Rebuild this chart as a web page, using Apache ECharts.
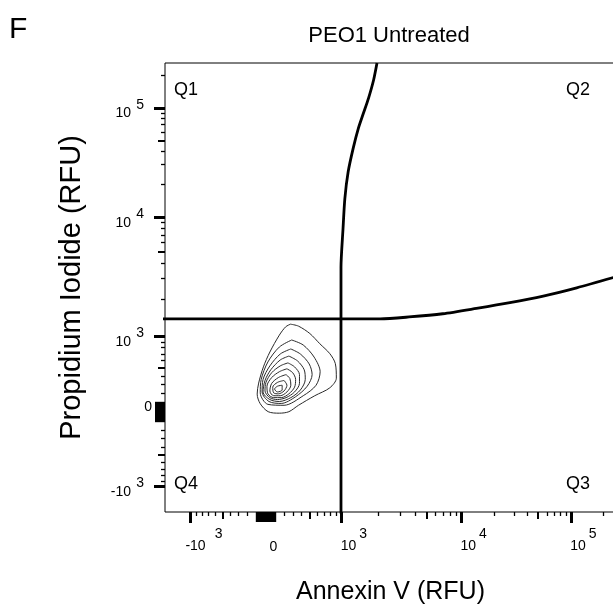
<!DOCTYPE html>
<html><head><meta charset="utf-8">
<script src="https://cdn.jsdelivr.net/npm/echarts@6/dist/echarts.min.js"></script>
<style>html,body{margin:0;padding:0;background:#fff}#c{width:613px;height:607px}</style>
</head><body><div id="c"></div>
<script>
// ---------------- data (RFU) ----------------
const majorTicks = [-1000, 1000, 10000, 100000];
const zeroClusterTicks = [-100, -90, -80, -70, -60, -50, -40, -30, -20, -10, 0,
  10, 20, 30, 40, 50, 60, 70, 80, 90, 100];
const midTicks = [-500, 500, 5000, 50000];
const minorTicks = [-900, -800, -700, -600, -400, -300, -200,
  200, 300, 400, 600, 700, 800, 900,
  2000, 3000, 4000, 6000, 7000, 8000, 9000,
  20000, 30000, 40000, 60000, 70000, 80000, 90000, 200000];
const tickLabelValues = [-1000, 1000, 10000, 100000];
const tickLabelBase = ['-10', '10', '10', '10'];
const tickLabelExp = ['3', '3', '4', '5'];
const zeroLabelValue = 0;

const quadrantNames = ['Q1', 'Q2', 'Q3', 'Q4'];

const verticalGate = [[995,-3000],[995,3671],[1035,7910],[1072,14710],[1142,25710],[1255,42210],[1383,64680],[1519,89170],[1669,122900],[1835,182150],[1954,262144]];
const horizontalGate = [[-3000,1400],[2076,1400],[3572,1450],[6920,1540],[13706,1700],[27490,1890],[55590,2140],[113300,2500],[262144,3080]];

const contour1 = [[268,1267],[361,1221],[503,1060],[640,867],[796,703],[890,559],[908,372],[796,260],[569,171],[361,67],[250,-2],[144,-18],[24,-2],[-61,84],[-94,189],[-78,314],[-27,515],[42,729],[144,1027],[214,1205]];
const contour2 = [[282,934],[419,844],[560,652],[645,452],[587,289],[419,171],[196,67],[21,77],[-61,203],[-51,357],[21,582],[144,810]];
const contour3 = [[272,778],[384,698],[494,555],[533,416],[469,278],[327,160],[165,87],[32,108],[-41,213],[-31,357],[42,528],[154,698]];
const contour4 = [[250,667],[350,596],[431,477],[444,357],[384,235],[272,150],[144,108],[42,129],[-31,213],[-10,345],[52,477],[154,610]];
const contour5 = [[239,569],[315,515],[373,416],[373,311],[315,213],[218,150],[124,129],[42,150],[-10,224],[0,322],[62,440],[154,528]];
const contour6 = [[228,490],[293,440],[327,357],[315,267],[250,192],[165,150],[83,150],[21,192],[11,278],[62,380],[144,452]];
const contour7 = [[218,416],[261,368],[272,289],[228,213],[154,171],[83,171],[42,224],[62,311],[134,380]];
const contour8 = [[196,345],[228,289],[196,224],[134,192],[83,203],[73,267],[124,322]];
const contour9 = [[175,289],[175,235],[124,213],[93,246],[124,278]];
const contours = [contour1, contour2, contour3, contour4, contour5, contour6, contour7, contour8, contour9];

// ---------------- logicle (biexponential) scale ----------------
function makeLogicle(T, W, M, A) {
  const w = W / (M + A), x2 = A / (M + A), x1 = x2 + w, x0 = x2 + 2 * w, b = (M + A) * Math.LN10;
  let lo = 1e-9, hi = b;
  for (let i = 0; i < 200; i++) {
    const m = (lo + hi) / 2;
    const g = 2 * (Math.log(m) - Math.log(b)) + w * (b + m);
    if (g > 0) hi = m; else lo = m;
  }
  const d = (lo + hi) / 2;
  const ca = Math.exp(x0 * (b + d));
  const mfa = Math.exp(b * x1) - ca * Math.exp(-d * x1);
  const a = T / (Math.exp(b) - mfa - ca * Math.exp(-d));
  const c = ca * a, f = -mfa * a;
  const S = x => {
    const neg = x < x1; const t = neg ? 2 * x1 - x : x;
    const v = a * Math.exp(b * t) + f - c * Math.exp(-d * t);
    return neg ? -v : v;
  };
  return v => {
    let l = -2, h = 2;
    for (let i = 0; i < 80; i++) { const m = (l + h) / 2; if (S(m) < v) l = m; else h = m; }
    return (l + h) / 2;
  };
}
const scale = makeLogicle(262144, 0.56, 3.82, 0.38);

const FONT = 'Liberation Sans, Arial, Helvetica, sans-serif';
const LBL = 14;

function nearestIdx(value) {
  let best = 0, bd = Infinity;
  tickLabelValues.forEach((v, i) => { const dd = Math.abs(scale(v) - value); if (dd < bd) { bd = dd; best = i; } });
  return best;
}
const baseRich = { b: { fontSize: LBL, fontFamily: FONT, color: '#000', width: 24, align: 'right' } };
const expRich = {
  e: { fontSize: LBL, fontFamily: FONT, color: '#000', padding: [0, 0, 0, 18] },
  en: { fontSize: LBL, fontFamily: FONT, color: '#000', padding: [0, 0, 0, 24] }
};

function makeAxes(dim) {
  const isX = dim === 'x';
  const base = { type: 'value', min: 0, max: 1, gridIndex: 0, position: isX ? 'bottom' : 'left',
    splitLine: { show: false }, axisLine: { show: false } };
  const txt = { fontSize: LBL, fontFamily: FONT, color: '#000' };
  return [
    // major ticks + mantissa labels
    Object.assign({}, base, {
      axisTick: { show: true, customValues: majorTicks.map(scale), length: 11, lineStyle: { color: '#000', width: 3 } },
      axisLabel: isX
        ? { show: true, customValues: tickLabelValues.map(scale), rich: baseRich, margin: 27, align: 'center', padding: [0, 0, 0, 6],
            formatter: v => '{b|' + tickLabelBase[nearestIdx(v)] + '}' }
        : Object.assign({ show: true, customValues: tickLabelValues.map(scale), margin: 34, align: 'right',
            verticalAlign: 'top', lineHeight: 11, formatter: v => tickLabelBase[nearestIdx(v)] }, txt),
      name: isX ? 'Annexin V (RFU)' : 'Propidium Iodide (RFU)',
      nameLocation: 'middle', nameGap: isX ? 68 : 79,
      nameTextStyle: { fontSize: isX ? 25 : 29, fontFamily: FONT, color: '#000' }
    }),
    // zero cluster ticks + zero label
    Object.assign({}, base, {
      axisTick: { show: true, customValues: zeroClusterTicks.map(scale), length: 10, lineStyle: { color: '#000', width: 1.4 } },
      axisLabel: isX
        ? Object.assign({ show: true, customValues: [scale(zeroLabelValue)], formatter: () => '0', margin: 28, align: 'center', padding: [0, 0, 0, 15] }, txt)
        : Object.assign({ show: true, customValues: [scale(zeroLabelValue)], formatter: () => '0', margin: 13, align: 'right',
            verticalAlign: 'bottom', lineHeight: 8 }, txt)
    }),
    // medium ticks
    Object.assign({}, base, {
      axisTick: { show: true, customValues: midTicks.map(scale), length: 7, lineStyle: { color: '#000', width: 2 } },
      axisLabel: { show: false }
    }),
    // minor ticks
    Object.assign({}, base, {
      axisTick: { show: true, customValues: minorTicks.map(scale), length: 4, lineStyle: { color: '#000', width: 1.3 } },
      axisLabel: { show: false }
    }),
    // exponents (superscripts)
    Object.assign({}, base, {
      axisTick: { show: false },
      axisLabel: isX
        ? { show: true, customValues: tickLabelValues.map(scale), rich: expRich, margin: 15, align: 'left',
            formatter: v => { const i = nearestIdx(v); return (tickLabelValues[i] < 0 ? '{en|' : '{e|') + tickLabelExp[i] + '}'; } }
        : Object.assign({ show: true, customValues: tickLabelValues.map(scale), margin: 21, align: 'right',
            verticalAlign: 'bottom', lineHeight: 6, formatter: v => tickLabelExp[nearestIdx(v)] }, txt)
    })
  ];
}

const series = [];
contours.forEach(c => {
  series.push({ type: 'line', xAxisIndex: 0, yAxisIndex: 0, symbol: 'none', smooth: 0.3, silent: true,
    data: c.concat([c[0]]).map(p => [scale(p[0]), scale(p[1])]),
    lineStyle: { color: '#2a2a2a', width: 1 } });
});
[verticalGate, horizontalGate].forEach(g => {
  series.push({ type: 'line', xAxisIndex: 0, yAxisIndex: 0, symbol: 'none', silent: true, smooth: 0.25,
    data: g.map(p => [scale(p[0]), scale(p[1])]),
    lineStyle: { color: '#000', width: 2.8 } });
});

const qStyle = { fontSize: 18, fontFamily: FONT, fill: '#000' };
const chart = echarts.init(document.getElementById('c'), null, { renderer: 'canvas' });
chart.setOption({
  animation: false,
  backgroundColor: '#fff',
  grid: { left: 165, top: 63, width: 451, height: 449, show: true, borderColor: '#000', borderWidth: 1,
    backgroundColor: 'transparent', containLabel: false, outerBoundsMode: 'none' },
  xAxis: makeAxes('x'),
  yAxis: makeAxes('y'),
  series: series,
  graphic: [
    { type: 'text', x: 389, y: 36, style: { text: 'PEO1 Untreated', fontSize: 22, fontFamily: FONT, fill: '#000', textAlign: 'center', textVerticalAlign: 'middle' } },
    { type: 'text', x: 9, y: 30, style: { text: 'F', fontSize: 30, fontFamily: FONT, fill: '#000', textAlign: 'left', textVerticalAlign: 'middle' } },
    { type: 'text', x: 174, y: 90, style: Object.assign({ text: quadrantNames[0], textAlign: 'left', textVerticalAlign: 'middle' }, qStyle) },
    { type: 'text', x: 590, y: 90, style: Object.assign({ text: quadrantNames[1], textAlign: 'right', textVerticalAlign: 'middle' }, qStyle) },
    { type: 'text', x: 590, y: 484, style: Object.assign({ text: quadrantNames[2], textAlign: 'right', textVerticalAlign: 'middle' }, qStyle) },
    { type: 'text', x: 174, y: 484, style: Object.assign({ text: quadrantNames[3], textAlign: 'left', textVerticalAlign: 'middle' }, qStyle) }
  ]
});
</script>
</body></html>
